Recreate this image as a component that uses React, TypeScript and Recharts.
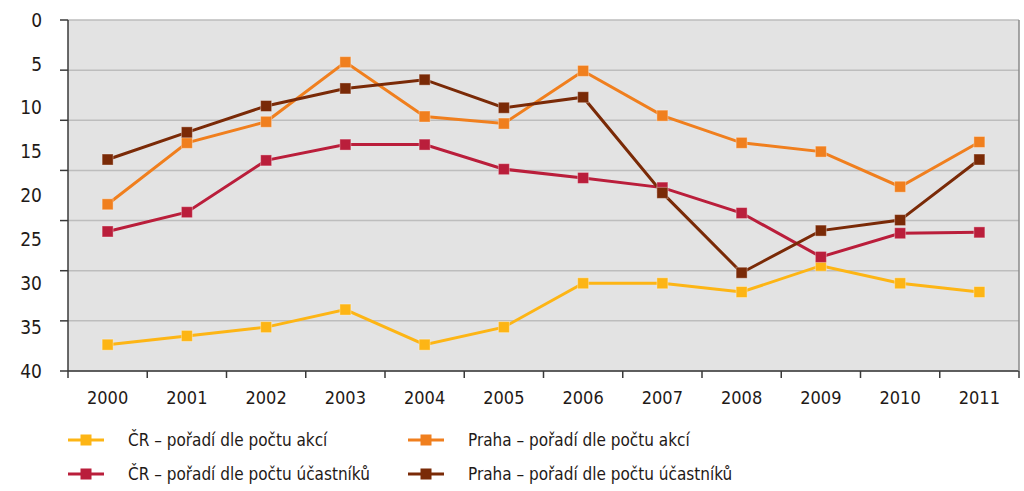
import React from 'react';
import { LineChart, Line, XAxis, YAxis, CartesianGrid } from 'recharts';

// Years on the category axis
const years = ['2000', '2001', '2002', '2003', '2004', '2005', '2006', '2007', '2008', '2009', '2010', '2011'];

// Rankings (lower = better, axis is reversed)
const crAkce = [37, 36, 35, 33, 37, 35, 30, 30, 31, 28, 30, 31];
const prahaAkce = [21, 14, 11.6, 4.8, 11, 11.8, 5.8, 10.9, 14, 15, 19, 13.9];
const crUcastnici = [24.1, 21.9, 16, 14.2, 14.2, 17, 18, 19.1, 22, 27, 24.3, 24.2];
const prahaUcastnici = [15.9, 12.8, 9.8, 7.8, 6.8, 10, 8.8, 19.7, 28.8, 24, 22.8, 15.9];

// Value-axis labels
const yLabels = [0, 5, 10, 15, 20, 25, 30, 35, 40];
const Y_MAX = 40;
const GRID_BANDS = 7;
const gridTicks = Array.from({ length: GRID_BANDS + 1 }, (_, i) => (Y_MAX * i) / GRID_BANDS);
const boundaryTicks = years.map((_, i) => i).concat([years.length]);

const series = [
  { key: 'crAkce', name: 'ČR – pořadí dle počtu akcí', color: '#FDB515', values: crAkce },
  { key: 'prahaAkce', name: 'Praha – pořadí dle počtu akcí', color: '#F07F1E', values: prahaAkce },
  { key: 'crUcastnici', name: 'ČR – pořadí dle počtu účastníků', color: '#BA1E3B', values: crUcastnici },
  { key: 'prahaUcastnici', name: 'Praha – pořadí dle počtu účastníků', color: '#7A2A07', values: prahaUcastnici },
];

const data = years.map((year, i) => {
  const row: Record<string, string | number> = { year, slot: i };
  series.forEach((s) => {
    row[s.key] = s.values[i];
  });
  return row;
});

const FONT = '"DejaVu Sans Condensed", "Liberation Sans", sans-serif';
const AXIS_DARK = '#3a3a3a';
const TEXT = '#1f1a17';

const SquareDot = (color: string) => (props: any) => {
  const { cx, cy, index } = props;
  if (cx == null || cy == null) return <g key={`d-${index}`} />;
  return (
    <rect
      key={`d-${index}`}
      x={cx - 5.5}
      y={cy - 5.5}
      width={11}
      height={11}
      fill={color}
      stroke="#ffffff"
      strokeOpacity={0.35}
      strokeWidth={1}
    />
  );
};

const LegendItem = ({ name, color }: { name: string; color: string }) => (
  <div style={{ display: 'flex', alignItems: 'center', height: 34 }}>
    <svg width={36} height={14} style={{ marginRight: 24, flex: 'none' }}>
      <line x1={0} y1={7} x2={36} y2={7} stroke={color} strokeWidth={3} />
      <rect x={12.5} y={1.5} width={11} height={11} fill={color} />
    </svg>
    <span style={{ fontFamily: FONT, fontSize: 17, color: TEXT, whiteSpace: 'nowrap' }}>{name}</span>
  </div>
);

export default function App() {
  return (
    <div style={{ position: 'absolute', left: 0, top: 0, width: 1024, height: 491, background: '#fff' }}>
      <LineChart
        width={1024}
        height={420}
        data={data}
        margin={{ top: 20, right: 4, bottom: 9, left: 7 }}
      >
        <CartesianGrid
          yAxisId="v"
          xAxisId="b"
          fill="#E3E3E3"
          vertical={false}
          horizontalValues={gridTicks}
          stroke="#BDBDBD"
          strokeWidth={1.5}
        />
        <XAxis
          xAxisId="a"
          dataKey="slot"
          type="number"
          domain={[0, years.length]}
          allowDataOverflow
          ticks={boundaryTicks}
          interval={0}
          tickFormatter={() => ''}
          height={1}
          tickSize={7}
          tickLine={{ stroke: AXIS_DARK, strokeWidth: 1.5 }}
          axisLine={{ stroke: AXIS_DARK, strokeWidth: 1.5 }}
        />
        <XAxis
          xAxisId="b"
          dataKey="year"
          scale="band"
          height={39}
          tickLine={false}
          axisLine={false}
          tickSize={0}
          tickMargin={19}
          interval={0}
          tick={{ fontFamily: FONT, fontSize: 18, fill: TEXT }}
        />
        <YAxis
          yAxisId="g"
          type="number"
          reversed
          domain={[0, Y_MAX]}
          allowDataOverflow
          ticks={gridTicks}
          interval={0}
          tickFormatter={() => ''}
          width={1}
          tickSize={8}
          tickLine={{ stroke: AXIS_DARK, strokeWidth: 1.5 }}
          axisLine={{ stroke: AXIS_DARK, strokeWidth: 1.5 }}
        />
        <YAxis
          yAxisId="v"
          type="number"
          reversed
          domain={[0, Y_MAX]}
          allowDataOverflow
          ticks={yLabels}
          interval={0}
          width={60}
          tickLine={false}
          axisLine={false}
          tickSize={0}
          tickMargin={25}
          tick={{ fontFamily: FONT, fontSize: 19, fill: TEXT }}
        />
        <YAxis
          yAxisId="r"
          orientation="right"
          domain={[0, Y_MAX]}
          allowDataOverflow
          width={1}
          tick={false}
          tickLine={false}
          axisLine={{ stroke: '#8a8a8a', strokeWidth: 1.5 }}
        />
        {series.map((s) => (
          <Line
            key={s.key}
            xAxisId="b"
            yAxisId="v"
            dataKey={s.key}
            name={s.name}
            stroke={s.color}
            strokeWidth={3}
            dot={SquareDot(s.color)}
            activeDot={false}
            isAnimationActive={false}
          />
        ))}
      </LineChart>
      <div
        style={{
          position: 'absolute',
          left: 68,
          top: 423,
          display: 'grid',
          gridTemplateColumns: '340px 400px',
        }}
      >
        {series.map((s) => (
          <LegendItem key={s.key} name={s.name} color={s.color} />
        ))}
      </div>
    </div>
  );
}
